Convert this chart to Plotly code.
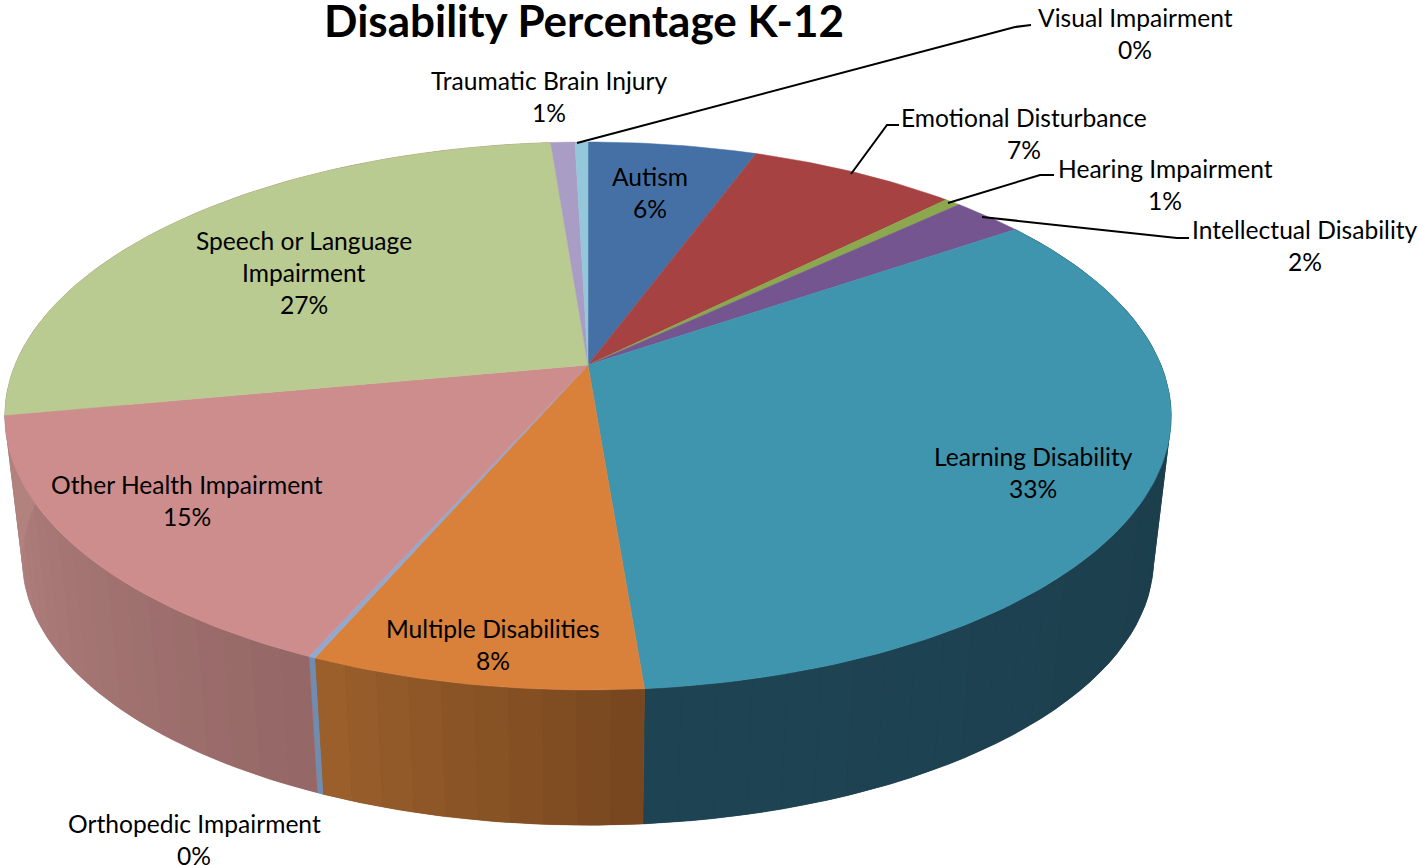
import numpy as np
import plotly.graph_objects as go

# ---- data ----
categories = ["Autism", "Emotional Disturbance", "Hearing Impairment", "Intellectual Disability",
              "Learning Disability", "Multiple Disabilities", "Orthopedic Impairment",
              "Other Health Impairment", "Speech or Language Impairment", "Traumatic Brain Injury",
              "Visual Impairment"]
values = [5.6, 6.9, 0.52, 2.4, 33.3, 7.75, 0.15, 15.45, 26.7, 0.8, 0.43]
title_text = "Disability Percentage K-12"

# ---- style ----
top_colors = ["#4570A5", "#A64241", "#8BA84E", "#74558F", "#3F95AE", "#D9803A",
              "#8FA9D3", "#CE8D8D", "#B9CB90", "#A99CC5", "#93C7D9"]
wall_colors = {
    4: ((27, 58, 70), (30, 68, 84)),
    5: ((118, 70, 30), (156, 96, 44)),
    6: ((112, 140, 176), (112, 140, 176)),
    7: ((148, 102, 101), (178, 130, 127)),
    8: ((178, 130, 127), (178, 130, 127)),
}
label_lines = {
    0: ["Autism"], 1: ["Emotional Disturbance"], 2: ["Hearing Impairment"],
    3: ["Intellectual Disability"], 4: ["Learning Disability"], 5: ["Multiple Disabilities"],
    6: ["Orthopedic Impairment"], 7: ["Other Health Impairment"],
    8: ["Speech or Language", "Impairment"], 9: ["Traumatic Brain Injury"], 10: ["Visual Impairment"],
}
label_x = [650, 1024, 1165, 1305, 1033, 493, 194, 187, 304, 549, 1135]
label_y = [192, 133, 184, 245, 472, 644, 839, 500, 272, 96, 33]
leaders = [
    ([851, 887, 899], [174, 125, 125]),
    ([948, 1040, 1054], [203, 175, 175]),
    ([982, 1177, 1189], [217, 238, 238]),
    ([577, 1015, 1031], [143, 27, 25]),
]

# ---- perspective projection of the pie disc ----
CX, CY, K, A, B = 588.0, 365.0, 0.186, 264.5, 573.0
WALL_SCALE, WALL_DROP = 0.97, 145.0


def project(theta, scale=1.0, drop=0.0):
    u, v = np.sin(theta), np.cos(theta)
    w = 1 + K * v
    return CX + scale * B * u / w, CY + drop - scale * A * v / w


def wall_outline(t0, t1, pts):
    tt = np.linspace(t0, t1, pts)
    xt, yt = project(tt)
    xb, yb = project(tt[::-1], WALL_SCALE, WALL_DROP)
    return np.r_[xt, xb, xt[0]], np.r_[yt, yb, yt[0]]


edges = np.concatenate([[0], np.cumsum(values)]) / np.sum(values) * 2 * np.pi
fig = go.Figure()

# side walls: solid base plus vertical-strip shading, as in the 3-D original
for i, (c0, c1) in wall_colors.items():
    t0, t1 = edges[i], edges[i + 1]
    mid = tuple(int(round((a + b) / 2)) for a, b in zip(c0, c1))
    x, y = wall_outline(t0, t1, 60)
    fig.add_trace(go.Scatter(x=x, y=y, mode="lines", fill="toself", fillcolor=f"rgb{mid}",
                             line=dict(color=f"rgb{mid}", width=0.5),
                             hoverinfo="skip", showlegend=False))
    n = max(1, int(np.ceil((t1 - t0) / np.radians(3.0))))
    steps = np.linspace(t0, t1, n + 1)
    for j in range(n):
        f = (j + 0.5) / n
        col = tuple(int(round(a + (b - a) * f)) for a, b in zip(c0, c1))
        x, y = wall_outline(steps[j], steps[j + 1], 4)
        fig.add_trace(go.Scatter(x=x, y=y, mode="none", fill="toself", fillcolor=f"rgb{col}",
                                 hoverinfo="skip", showlegend=False))

# top faces
for i, name in enumerate(categories):
    tt = np.linspace(edges[i], edges[i + 1], max(3, int(values[i] * 4)))
    x, y = project(tt)
    fig.add_trace(go.Scatter(x=np.r_[CX, x, CX], y=np.r_[CY, y, CY], mode="lines", fill="toself",
                             fillcolor=top_colors[i], line=dict(color=top_colors[i], width=0.5),
                             name=name, hoverinfo="name", showlegend=False))

# leader lines
for lx, ly in leaders:
    fig.add_trace(go.Scatter(x=lx, y=ly, mode="lines", line=dict(color="black", width=2),
                             hoverinfo="skip", showlegend=False))

FONT = "Lato, Carlito, sans-serif"
anns = []
for i in range(len(categories)):
    pct = int(values[i] + 0.5)
    lines = label_lines[i] + [f"{pct}%"]
    top = label_y[i] - 32 * (len(lines) - 1) / 2
    for k, line in enumerate(lines):
        anns.append(dict(x=label_x[i], y=top + 32 * k, text=line, showarrow=False, xanchor="center",
                         yanchor="middle", font=dict(family=FONT, size=24.6, color="black")))

fig.update_layout(
    width=1418, height=865, margin=dict(l=0, r=0, t=0, b=0),
    paper_bgcolor="white", plot_bgcolor="white", annotations=anns,
    title=dict(text=f"<b>{title_text}</b>", x=584 / 1418, xanchor="center",
               y=1 - 22 / 865, yanchor="middle", font=dict(family=FONT, size=44, color="black")),
    xaxis=dict(range=[0, 1418], visible=False, fixedrange=True),
    yaxis=dict(range=[865, 0], visible=False, fixedrange=True),
)
fig.write_html("out.html", config={"displayModeBar": False},
               post_script="document.body.style.margin='0';")
